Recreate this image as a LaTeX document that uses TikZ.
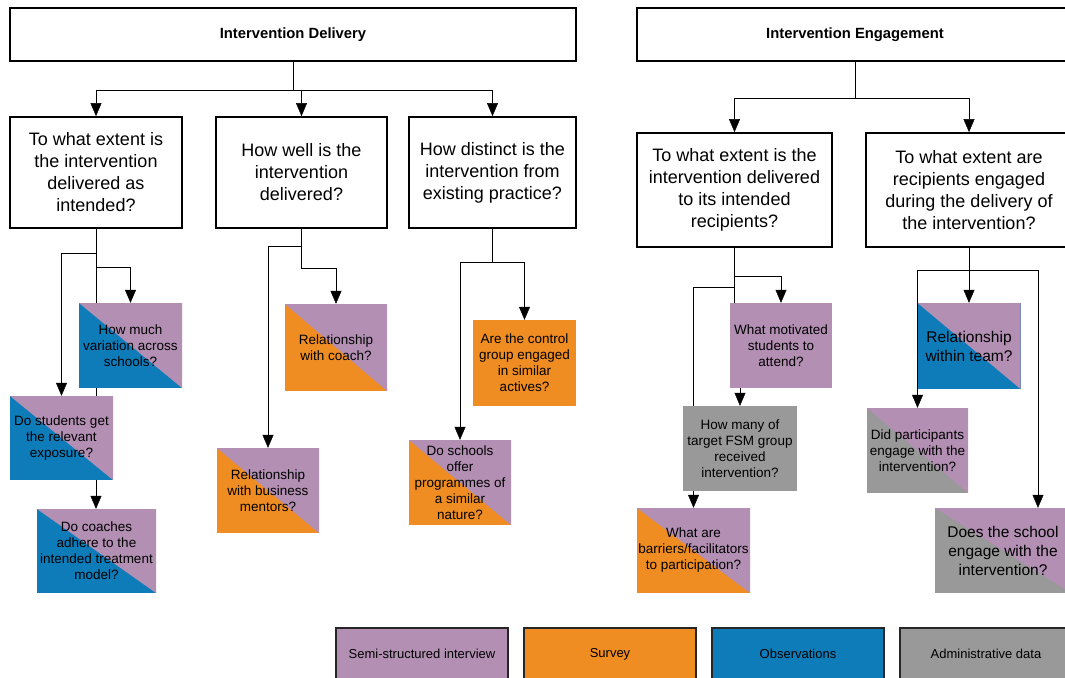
\documentclass[tikz,border=0pt]{standalone}
\usepackage{fontspec}
\setmainfont{Liberation Sans}
\usetikzlibrary{arrows.meta}
\usetikzlibrary{backgrounds}

\definecolor{lpurple}{HTML}{B28FB3}
\definecolor{lorange}{HTML}{EF8D23}
\definecolor{lblue}{HTML}{0F7CBA}
\definecolor{lgray}{HTML}{999999}

\begin{document}
\begin{tikzpicture}[x=1pt, y=-1pt,
headnode/.style={rectangle, draw=black, fill=white, line width=1.8pt, minimum height=53pt, font=\bfseries\fontsize{14.8}{17}\selectfont},
qnode/.style={rectangle, draw=black, fill=white, line width=1.8pt, align=center, minimum height=111pt, font=\fontsize{18}{22}\selectfont},
leafnode/.style={rectangle, align=center, inner sep=0pt, minimum height=85pt, font=\fontsize{13.5}{16}\selectfont},
halfnode/.style 2 args={leafnode, fill=#1, path picture={\fill[#2] (path picture bounding box.north west) -| (path picture bounding box.south east) -- cycle;}},
keynode/.style={rectangle, draw=black!85, fill=#1, line width=1.4pt, minimum width=172pt, minimum height=52pt, font=\fontsize{13}{15}\selectfont},
link/.style={line width=1.8pt},
>={Triangle[length=13pt, width=11pt]}
]
\useasboundingbox (0,0) rectangle (1065,677);

%Nodes
\node[headnode, minimum width=566pt] (deliv)  at (293,34.5) {Intervention Delivery};
\node[headnode, minimum width=436pt] (engage) at (855,34.5) {Intervention Engagement};

\node[qnode, minimum width=172pt] (extent)   at (96,172.5)    {To what extent is\\the intervention\\delivered as\\intended?};
\node[qnode, minimum width=171pt] (howwell)  at (301.5,172.5) {How well is the\\intervention\\delivered?};
\node[qnode, minimum width=167pt] (distinct) at (492.5,172.5) {How distinct is the\\intervention from\\existing practice?};
\node[qnode, minimum width=195pt, minimum height=114pt] (reach)   at (734.5,190) {To what extent is the\\intervention delivered\\to its intended\\recipients?};
\node[qnode, minimum width=206pt, minimum height=114pt] (engaged) at (969,190)   {To what extent are\\recipients engaged\\during the delivery of\\the intervention?};

\node[halfnode={lblue}{lpurple}, minimum width=103pt]                     (variation) at (130.5,345.5) {How much\\variation across\\schools?};
\node[halfnode={lblue}{lpurple}, minimum width=103pt, minimum height=84pt] (exposure)  at (61.5,438)    {Do students get\\the relevant\\exposure?};
\node[halfnode={lblue}{lpurple}, minimum width=119pt, minimum height=84pt] (adhere)    at (96.5,551)    {Do coaches\\adhere to the\\intended treatment\\model?};

\node[halfnode={lorange}{lpurple}, minimum width=102pt, minimum height=87pt] (coachrel)  at (336,347.5) {Relationship\\with coach?};
\node[halfnode={lorange}{lpurple}, minimum width=102pt]                     (mentorrel) at (268,490.5) {Relationship\\with business\\mentors?};

\node[leafnode, fill=lorange, minimum width=103pt, minimum height=86pt] (control) at (524.5,363)   {Are the control\\group engaged\\in similar\\actives?};
\node[halfnode={lorange}{lpurple}, minimum width=102pt]                 (offer)   at (460,482.5)   {Do schools\\offer\\programmes of\\a similar\\nature?};

\node[leafnode, fill=lpurple, minimum width=102pt]             (motivated) at (781,345.5)   {What motivated\\students to\\attend?};
\node[leafnode, fill=lgray, minimum width=114pt]               (fsm)       at (740,448.5)   {How many of\\target FSM group\\received\\intervention?};
\node[halfnode={lorange}{lpurple}, minimum width=113pt]        (barriers)  at (693.5,550.5) {What are\\barriers/facilitators\\to participation?};

\node[halfnode={lblue}{lpurple}, minimum width=103pt, minimum height=86pt, font=\fontsize{15.5}{19}\selectfont] (team)         at (969,346)     {Relationship\\within team?};
\node[halfnode={lgray}{lpurple}, minimum width=101pt]                                                          (participants) at (917.5,450.5) {Did participants\\engage with the\\intervention?};
\node[halfnode={lgray}{lpurple}, minimum width=136pt, font=\fontsize{15.5}{19}\selectfont]                     (school)       at (1003,550.5)  {Does the school\\engage with the\\intervention?};

%Key
\node[keynode=lpurple] (keyinterview) at (422,654) {Semi-structured interview};
\node[keynode=lorange] (keysurvey)    at (610,654) {Survey};
\node[keynode=lblue]   (keyobs)       at (798,654) {Observations};
\node[keynode=lgray]   (keyadmin)     at (986,654) {Administrative data};

%Lines
\begin{scope}[on background layer, link]
\draw[->] (deliv.south) -- ++(0,28) -| (extent.north);
\draw[->] (deliv.south) -- ++(0,28) -| (howwell.north);
\draw[->] (deliv.south) -- ++(0,28) -| (distinct.north);
\draw[->] (engage.south) -- ++(0,36) -| (reach.north);
\draw[->] (engage.south) -- ++(0,36) -| (engaged.north);

\draw[->] (extent.south) -- ++(0,24) -| (exposure.north);
\draw[->] (extent.south) -- ++(0,38) -| (variation.north);
\draw[->] (extent.south) -- (extent.south |- adhere.north);

\draw[->] (howwell.south) -- ++(0,17) -| (mentorrel.north);
\draw[->] (howwell.south) -- ++(0,39) -| (coachrel.north);

\draw[->] (distinct.south) -- ++(0,33) -| (control.north);
\draw[->] (distinct.south) -- ++(0,33) -| (offer.north);

\draw[->] (reach.south) -- ++(0,28) -| (motivated.north);
\draw[->] (reach.south) -- ++(0,39) -| (barriers.north);
\draw[->] (reach.south) -- (reach.south |- motivated.center) -| (fsm.north);

\draw[->] (engaged.south) -- (team.north);
\draw[->] (engaged.south) -- ++(0,22) -| (participants.north);
\draw[->] (engaged.south) -- ++(0,22) -| ([xshift=35pt]school.north);
\end{scope}
\end{tikzpicture}
\end{document}
